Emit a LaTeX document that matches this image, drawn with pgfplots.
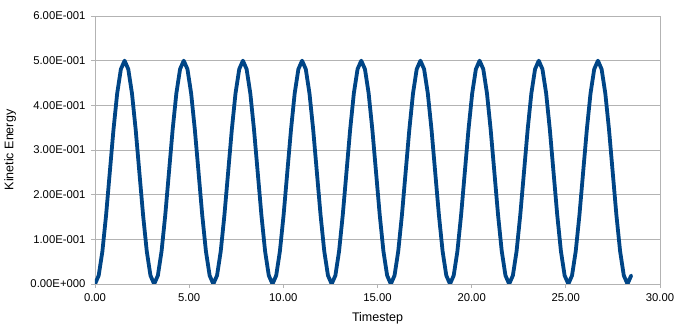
\documentclass[border=0pt]{standalone}
\usepackage{fontspec}
\setmainfont{Liberation Sans}
\usepackage{pgfplots}
\pgfplotsset{compat=1.18}
\usepackage{pgfplotstable}
\definecolor{series}{HTML}{004586}
\definecolor{gridc}{HTML}{B3B3B3}
\pgfplotstableread{
x y
0.000 0.0000
0.196 0.0190
0.393 0.0732
0.589 0.1543
0.785 0.2500
0.982 0.3457
1.178 0.4268
1.374 0.4810
1.571 0.5000
1.767 0.4810
1.963 0.4268
2.160 0.3457
2.356 0.2500
2.553 0.1543
2.749 0.0732
2.945 0.0190
3.142 0.0000
3.338 0.0190
3.534 0.0732
3.731 0.1543
3.927 0.2500
4.123 0.3457
4.320 0.4268
4.516 0.4810
4.712 0.5000
4.909 0.4810
5.105 0.4268
5.301 0.3457
5.498 0.2500
5.694 0.1543
5.890 0.0732
6.087 0.0190
6.283 0.0000
6.480 0.0190
6.676 0.0732
6.872 0.1543
7.069 0.2500
7.265 0.3457
7.461 0.4268
7.658 0.4810
7.854 0.5000
8.050 0.4810
8.247 0.4268
8.443 0.3457
8.639 0.2500
8.836 0.1543
9.032 0.0732
9.228 0.0190
9.425 0.0000
9.621 0.0190
9.817 0.0732
10.014 0.1543
10.210 0.2500
10.407 0.3457
10.603 0.4268
10.799 0.4810
10.996 0.5000
11.192 0.4810
11.388 0.4268
11.585 0.3457
11.781 0.2500
11.977 0.1543
12.174 0.0732
12.370 0.0190
12.566 0.0000
12.763 0.0190
12.959 0.0732
13.155 0.1543
13.352 0.2500
13.548 0.3457
13.744 0.4268
13.941 0.4810
14.137 0.5000
14.334 0.4810
14.530 0.4268
14.726 0.3457
14.923 0.2500
15.119 0.1543
15.315 0.0732
15.512 0.0190
15.708 0.0000
15.904 0.0190
16.101 0.0732
16.297 0.1543
16.493 0.2500
16.690 0.3457
16.886 0.4268
17.082 0.4810
17.279 0.5000
17.475 0.4810
17.671 0.4268
17.868 0.3457
18.064 0.2500
18.261 0.1543
18.457 0.0732
18.653 0.0190
18.850 0.0000
19.046 0.0190
19.242 0.0732
19.439 0.1543
19.635 0.2500
19.831 0.3457
20.028 0.4268
20.224 0.4810
20.420 0.5000
20.617 0.4810
20.813 0.4268
21.009 0.3457
21.206 0.2500
21.402 0.1543
21.598 0.0732
21.795 0.0190
21.991 0.0000
22.188 0.0190
22.384 0.0732
22.580 0.1543
22.777 0.2500
22.973 0.3457
23.169 0.4268
23.366 0.4810
23.562 0.5000
23.758 0.4810
23.955 0.4268
24.151 0.3457
24.347 0.2500
24.544 0.1543
24.740 0.0732
24.936 0.0190
25.133 0.0000
25.329 0.0190
25.525 0.0732
25.722 0.1543
25.918 0.2500
26.115 0.3457
26.311 0.4268
26.507 0.4810
26.704 0.5000
26.900 0.4810
27.096 0.4268
27.293 0.3457
27.489 0.2500
27.685 0.1543
27.882 0.0732
28.078 0.0190
28.274 0.0000
28.471 0.0190
}\ke
\begin{document}
\begin{tikzpicture}
\useasboundingbox (-95pt,-47pt) rectangle (590pt,284pt);
\begin{axis}[
  scale only axis,
  width=565pt, height=268pt,
  xmin=0, xmax=30, ymin=0, ymax=0.6,
  axis line style={gridc, line width=0.8pt},
  xtick={0,5,10,15,20,25,30},
  xticklabels={0.00,5.00,10.00,15.00,20.00,25.00,30.00},
  ytick={0,0.1,0.2,0.3,0.4,0.5,0.6},
  yticklabels={0.00E+000,1.00E-001,2.00E-001,3.00E-001,4.00E-001,5.00E-001,6.00E-001},
  xtick pos=bottom, ytick pos=left,
  tick align=outside,
  major tick length=4pt,
  tick style={gridc, line width=0.8pt},
  ymajorgrids,
  grid style={gridc, line width=0.8pt},
  ticklabel style={font=\fontsize{11.3}{13}\selectfont, text=black},
  xticklabel style={yshift=-2pt},
  yticklabel style={xshift=-2pt},
  xlabel={Timestep}, ylabel={Kinetic Energy},
  label style={font=\fontsize{12.5}{14}\selectfont},
  xlabel style={at={(axis description cs:0.5,-0.127)}, anchor=center},
  ylabel style={at={(axis description cs:-0.1504,0.5)}, anchor=center, rotate=0},
]
\addplot[series, line width=3.8pt, line join=round, line cap=round] table[x=x,y=y] {\ke};
\end{axis}
\end{tikzpicture}
\end{document}
